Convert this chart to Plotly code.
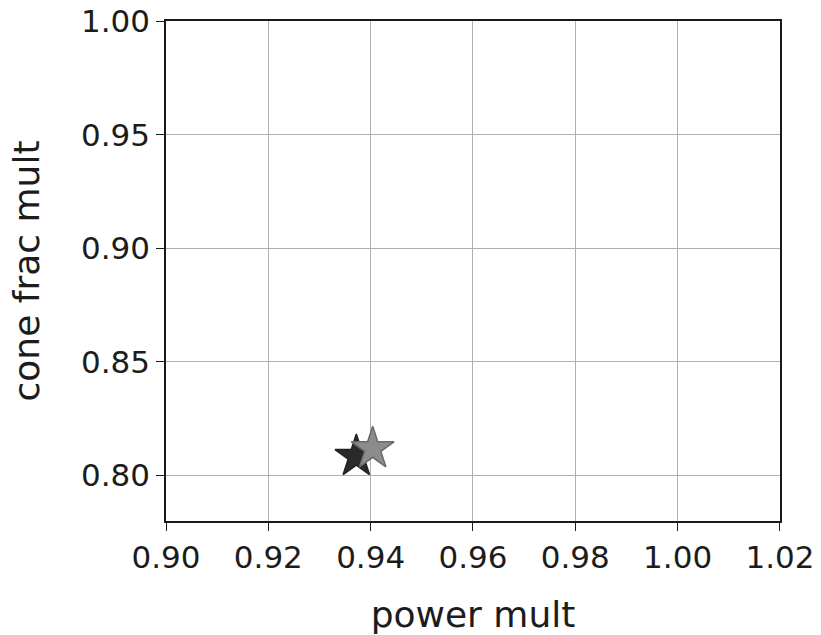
import plotly.graph_objects as go

# Two runs plotted as star markers: (power multiplier, cone fraction multiplier)
series_names = ["run A", "run B"]
power_mult = [0.9372, 0.9404]
cone_frac_mult = [0.8084, 0.8118]
star_colors = ["#2a2a2a", "#8c8c8c"]
edge_colors = ["#222222", "#6a6a6a"]

x_ticks = [0.90, 0.92, 0.94, 0.96, 0.98, 1.00, 1.02]
y_ticks = [0.80, 0.85, 0.90, 0.95, 1.00]

fig = go.Figure()
for name, x, y, c, e in zip(series_names, power_mult, cone_frac_mult, star_colors, edge_colors):
    fig.add_trace(go.Scatter(
        x=[x], y=[y], mode="markers", name=name,
        marker=dict(symbol="star", size=32, color=c, line=dict(color=e, width=1.5)),
        showlegend=False,
    ))

text_color = "#1c1c1c"
axis_common = dict(
    showline=True, linecolor="#1a1a1a", linewidth=1.6, mirror=True,
    showgrid=True, gridcolor="#b0b0b0", gridwidth=1.2,
    ticks="outside", ticklen=8, tickwidth=1.3, tickcolor="#1a1a1a",
    tickfont=dict(family="DejaVu Sans", size=31, color=text_color),
    ticklabeloverflow="allow",
    zeroline=False,
)

fig.update_xaxes(
    range=[0.90, 1.02001], tickvals=x_ticks, ticktext=[f"{v:.2f}" for v in x_ticks],
    title=dict(text="power mult", font=dict(family="DejaVu Sans", size=36, color=text_color), standoff=28),
    **axis_common,
)
fig.update_yaxes(
    range=[0.78, 1.00001], tickvals=y_ticks, ticktext=[f"{v:.2f}" for v in y_ticks],
    title=dict(text="cone frac mult", font=dict(family="DejaVu Sans", size=36, color=text_color), standoff=30),
    **axis_common,
)

fig.update_layout(
    width=821, height=635,
    margin=dict(l=166, r=41, t=21, b=114, autoexpand=False),
    paper_bgcolor="white", plot_bgcolor="white",
)

fig.write_html("out.html")
